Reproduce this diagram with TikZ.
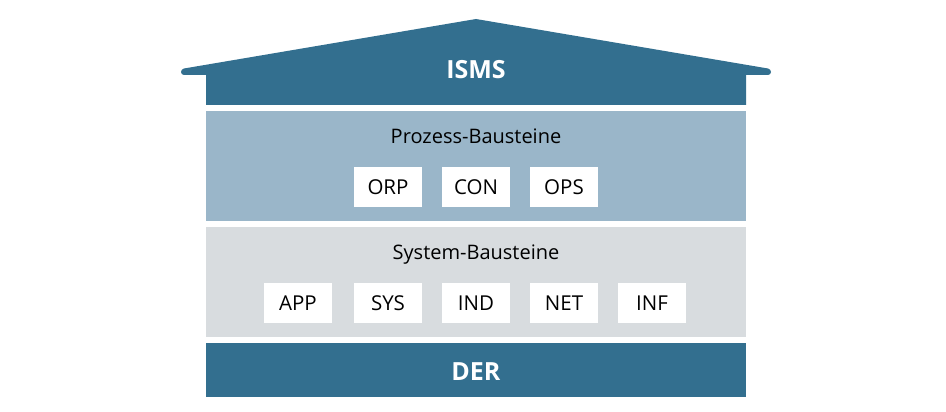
\documentclass[tikz,border=0pt]{standalone}
\usepackage{fontspec}
\setmainfont{Open Sans}
\usepackage{tikz}
\usepackage{xcolor}
\usetikzlibrary{positioning}
\definecolor{ismsblau}{RGB}{51,111,143}
\definecolor{prozessblau}{RGB}{154,182,201}
\definecolor{systemgrau}{RGB}{216,220,223}

\begin{document}
\begin{tikzpicture}[x=1pt,y=-1pt,
    schicht/.style={rectangle,inner sep=0pt,minimum width=540pt},
    baustein/.style={rectangle,fill=white,inner sep=0pt,minimum width=68pt,minimum height=40pt,font=\fontsize{20.5}{24}\selectfont},
    titel/.style={anchor=base,inner sep=0pt,font=\fontsize{20}{24}\selectfont},
    kopf/.style={anchor=base,inner sep=0pt,text=white,font=\bfseries\fontsize{25}{30}\selectfont}]
  \useasboundingbox (0,0) rectangle (946,412);
  \fill[ismsblau] (206,105) -- (206,75) {[rounded corners=3pt] -- (181,75) -- (181,69)} -- (476,19)
    {[rounded corners=3pt] -- (771,69) -- (771,75)} -- (746,75) -- (746,105) -- cycle;
  \node[kopf] (isms) at (476,78) {ISMS};
  \node[schicht,fill=prozessblau,minimum height=110pt] (prozess) at (476,166) {};
  \node[titel] (prozesstitel) at (476,143) {Prozess-Bausteine};
  \foreach \n/\x in {ORP/388,CON/476,OPS/564}
    \node[baustein,text depth=0pt] (\n) at (\x,187) {\n};
  \node[schicht,fill=systemgrau,minimum height=110pt] (system) at (476,282) {};
  \node[titel] (systemtitel) at (476,259) {System-Bausteine};
  \foreach \n/\x in {APP/298,SYS/388,IND/476,NET/564,INF/652}
    \node[baustein,text depth=0pt] (\n) at (\x,303) {\n};
  \node[schicht,fill=ismsblau,minimum height=54pt] (der) at (476,370) {};
  \node[kopf] (dertext) at (476,380) {DER};
\end{tikzpicture}
\end{document}
